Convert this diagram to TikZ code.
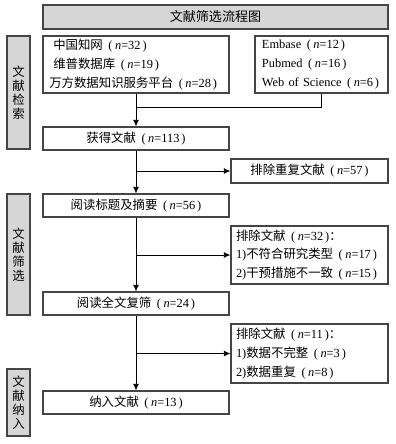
\documentclass[tikz,border=0pt]{standalone}
\usepackage{fontspec}
\setmainfont{Noto Sans CJK SC}
\newfontfamily\lat{Liberation Serif}
\usetikzlibrary{arrows.meta}
\definecolor{kuanghui}{HTML}{D6D6D6}
\definecolor{xianhui}{HTML}{454545}
% 例数 (n=...)
\newcommand{\nn}[1]{{\lat\hspace{0.45em}(\hspace{0.2em}\textit{n}=#1\hspace{0.15em})}}
\begin{document}
\begin{tikzpicture}[x=0.75pt,y=-0.75pt,
  kuang/.style={draw=xianhui,line width=0.8pt,inner sep=0pt,
    font=\fontsize{9.3}{14}\selectfont},
  huikuang/.style={kuang,fill=kuanghui},
  jiantou/.style={line width=0.7pt,-{Latex[length=5pt,width=4.5pt]}},
  xian/.style={line width=0.7pt}]
  \useasboundingbox (0,0) rectangle (396,444);
  % 标题
  \node[huikuang,minimum width=258.75pt,minimum height=18pt,
    font=\fontsize{9.8}{12}\selectfont] (biaoti) at (215.5,17) {文献筛选流程图};
  % 左侧阶段
  \foreach \name/\y/\h/\txt in {jieduan1/92.5/84.75pt/文\\献\\检\\索,
      jieduan2/254.5/90.75pt/文\\献\\筛\\选,
      jieduan3/402.5/50.25pt/文\\献\\纳\\入}
    \node[huikuang,minimum width=17.25pt,minimum height=\h,align=center,
      font=\fontsize{9.3}{10.5}\selectfont] (\name) at (18.5,\y) {\txt};
  % 检索来源
  \node[kuang,minimum width=139.5pt,minimum height=42.75pt,inner xsep=4.7pt,
    text width=130.1pt,align=left] (zhongwen) at (136,64.5)
    {\hspace{3pt}中国知网\nn{32}\\\hspace{3pt}维普数据库\nn{19}\\万方数据知识服务平台\nn{28}};
  \node[kuang,minimum width=99.75pt,minimum height=42.75pt,inner xsep=5.25pt,
    text width=89.25pt,align=left] (waiwen) at (321.5,64.5)
    {{\lat Embase}\nn{12}\\{\lat Pubmed}\nn{16}\\{\lat Web~of~Science}\nn{6}};
  % 主流程
  \foreach \name/\y/\txt in {huode/138.5/获得文献\nn{113},
      yuedu/205.5/阅读标题及摘要\nn{56},
      quanwen/303.5/阅读全文复筛\nn{24},
      naru/402.5/纳入文献\nn{13}}
    \node[kuang,minimum width=139.5pt,minimum height=17.25pt] (\name) at (136,\y) {\txt};
  % 排除
  \node[kuang,minimum width=117.75pt,minimum height=18pt] (chongfu)
    at (309.5,171) {排除重复文献\nn{57}};
  \node[kuang,minimum width=117.75pt,minimum height=43.5pt,inner xsep=3.75pt,
    text width=110.25pt,align=left] (paichu1) at (309.5,255)
    {排除文献\nn{32}：\\{\lat 1)}不符合研究类型\nn{17}\\{\lat 2)}干预措施不一致\nn{15}};
  \node[kuang,minimum width=117.75pt,minimum height=44.25pt,inner xsep=3.75pt,
    text width=110.25pt,align=left] (paichu2) at (309.5,353.5)
    {排除文献\nn{11}：\\{\lat 1)}数据不完整\nn{3}\\{\lat 2)}数据重复\nn{8}};
  % 连线
  \coordinate (hui) at (136,107);
  \draw[xian] (waiwen) |- (hui);
  \draw[jiantou] (zhongwen) -- (huode);
  \draw[jiantou] (huode) -- (yuedu);
  \draw[jiantou] (yuedu) -- (quanwen);
  \draw[jiantou] (quanwen) -- (naru);
  \foreach \i/\y/\mubiao in {1/171/chongfu,2/255/paichu1,3/353.5/paichu2} {
    \coordinate (fen\i) at (136,\y);
    \draw[jiantou] (fen\i) -- (\mubiao);
  }
\end{tikzpicture}
\end{document}
